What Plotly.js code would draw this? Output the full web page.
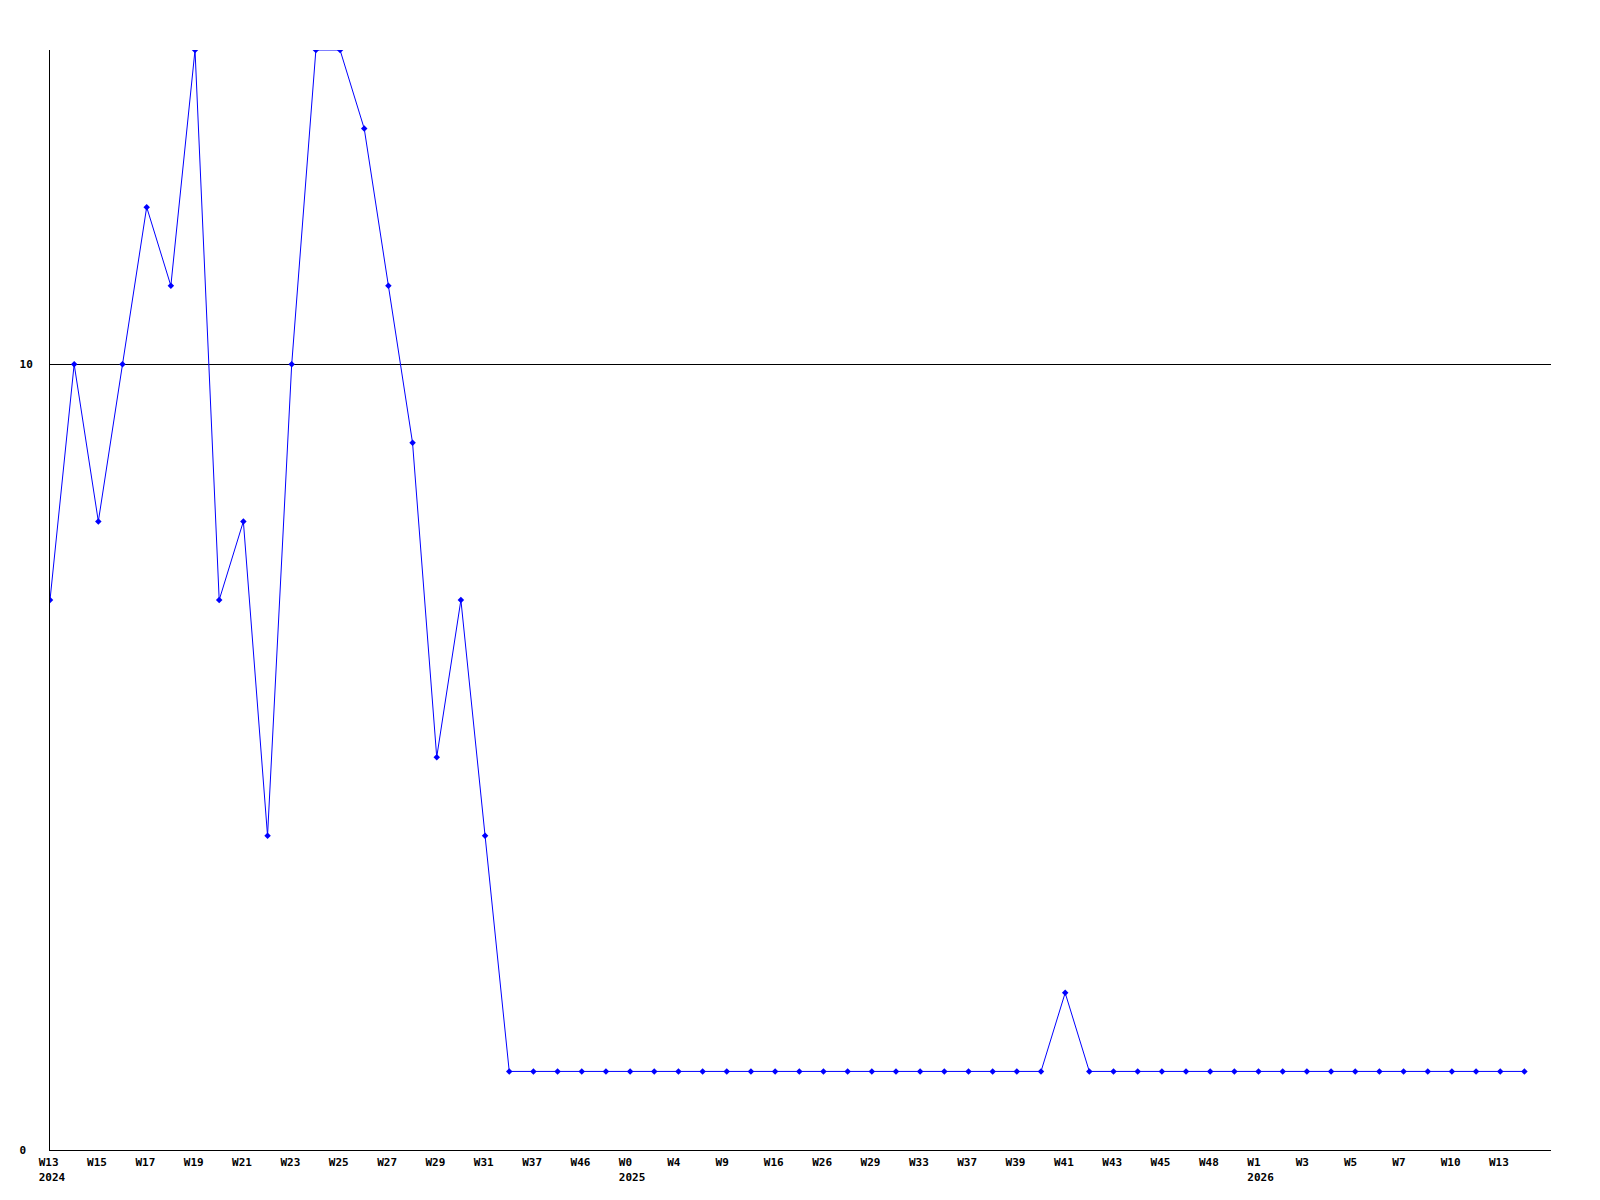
<!DOCTYPE html>
<html>
<head>
<meta charset="utf-8">
<script src="https://cdn.plot.ly/plotly-3.0.1.min.js"></script>
<style>html,body{margin:0;padding:0;background:#fff;}#chart{width:1600px;height:1200px;}</style>
</head>
<body>
<div id="chart"></div>
<script>
// Weekly values, one per data point (index 0 .. 61)
var values = [7,10,8,10,12,11,14,7,8,4,10,14,14,13,11,9,5,7,4,
  1,1,1,1,1,1,1,1,1,1,1,1,1,1,1,1,1,1,1,1,1,1,1,
  2,
  1,1,1,1,1,1,1,1,1,1,1,1,1,1,1,1,1,1,1];
// Tick labels (every second point)
var tickIndex = [0,2,4,6,8,10,12,14,16,18,20,22,24,26,28,30,32,34,36,38,40,42,44,46,48,50,52,54,56,58,60];
var tickWeeks = ["W13","W15","W17","W19","W21","W23","W25","W27","W29","W31","W37","W46","W0","W4","W9","W16","W26","W29","W33","W37","W39","W41","W43","W45","W48","W1","W3","W5","W7","W10","W13"];
var tickYears = ["2024","","","","","","","","","","","","2025","","","","","","","","","","","","","2026","","","","",""];
var yTickVals = [0,10];
var yTickText = ["0","10"];

var NB = "\u00a0";
function pad(s, n){ while (s.length < n) s += NB; return s; }
var tickText = tickWeeks.map(function(w, i){
  var y = tickYears[i];
  return y ? pad(w,4) + "<br>" + y : pad(w,4);
});
var xs = values.map(function(v, i){ return i; });

var font = {family: "DejaVu Sans Mono, Liberation Mono, monospace", size: 11, color: "#000"};

var trace = {
  x: xs, y: values, type: "scatter", mode: "lines+markers",
  line: {color: "#0000ff", width: 1},
  marker: {color: "#0000ff", size: 5, symbol: "diamond"},
  hoverinfo: "skip"
};

var layout = {
  width: 1600, height: 1200,
  margin: {l: 50, r: 49, t: 50, b: 50},
  paper_bgcolor: "#fff", plot_bgcolor: "#fff",
  showlegend: false,
  font: font,
  xaxis: {
    range: [0, 62.1], tickmode: "array", tickvals: tickIndex, ticktext: tickText,
    showgrid: false, zeroline: false, showline: true, linecolor: "#000", linewidth: 1,
    ticks: "", tickangle: 0, ticklabelshift: 2, ticklabelstandoff: 2,
    tickfont: {family: font.family, size: 11, color: "#000", weight: "bold"},
    automargin: false, fixedrange: true
  },
  yaxis: {
    range: [0, 14], tickmode: "array", tickvals: yTickVals,
    ticktext: yTickText.map(function(t){ return t.length < 2 ? t + NB : t; }),
    showgrid: true, gridcolor: "#000", gridwidth: 1, zeroline: false,
    showline: true, linecolor: "#000", linewidth: 1, ticks: "",
    ticklabelstandoff: 14,
    tickfont: {family: font.family, size: 11, color: "#000", weight: "bold"},
    automargin: false, fixedrange: true
  }
};

Plotly.newPlot("chart", [trace], layout, {staticPlot: true, displayModeBar: false});
</script>
</body>
</html>
